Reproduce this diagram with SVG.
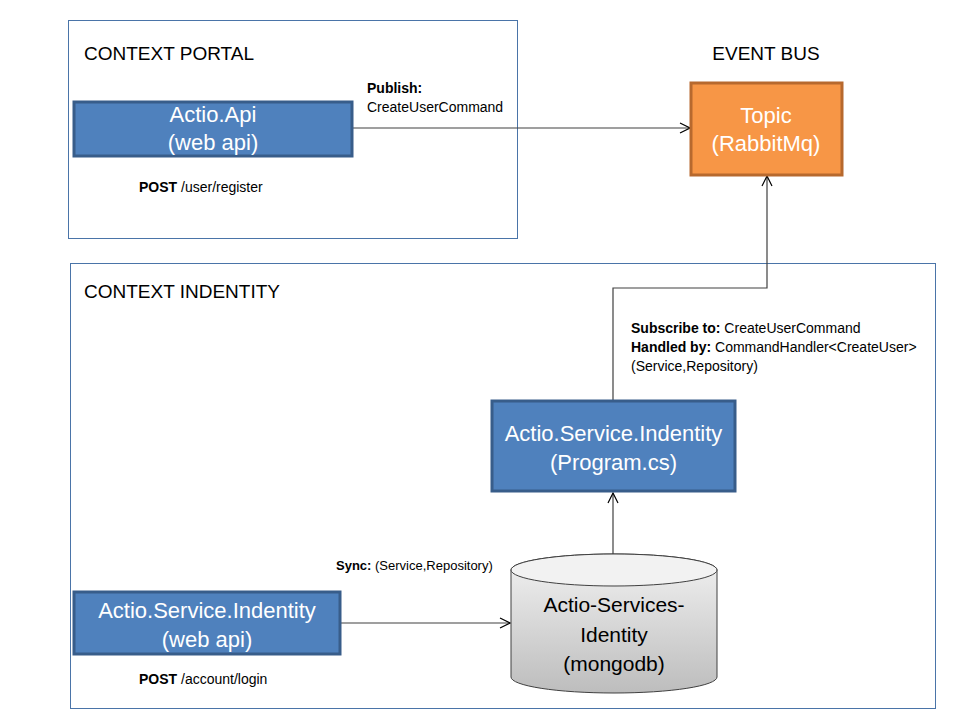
<svg xmlns="http://www.w3.org/2000/svg" width="960" height="720" viewBox="0 0 960 720">
<style>
.ctx{fill:#ffffff;stroke:#4A74A8;stroke-width:1}
.title{font-family:"Liberation Sans",Arial,sans-serif;font-size:19px;fill:#000}
.blue{fill:#4F81BD;stroke:#385D8A;stroke-width:3}
.orange{fill:#F79646;stroke:#B7692E;stroke-width:3}
.lbl{font-family:"Liberation Sans",Arial,sans-serif;font-size:22px;fill:#ffffff;text-anchor:middle}
.dlbl{font-family:"Liberation Sans",Arial,sans-serif;font-size:21px;fill:#000;text-anchor:middle}
.small{font-family:"Liberation Sans",Arial,sans-serif;font-size:14px;fill:#000}
.b{font-weight:bold}
.conn{fill:none;stroke:#404040;stroke-width:1.2}
</style>
<defs>
<marker id="arr" viewBox="0 0 12 12" refX="11" refY="6" markerWidth="12" markerHeight="12" markerUnits="userSpaceOnUse" orient="auto">
<path d="M1,1 L11,6 L1,11" fill="none" stroke="#000" stroke-width="1.2"/>
</marker>
<linearGradient id="cyl" x1="0" y1="0" x2="0" y2="1">
<stop offset="0" stop-color="#F2F2F2"/>
<stop offset="1" stop-color="#BDBDBD"/>
</linearGradient>
</defs>
<rect width="960" height="720" fill="#ffffff"/>

<g id="context-portal">
<rect class="ctx" x="68.5" y="20.5" width="449" height="218"/>
<text class="title" x="84" y="60">CONTEXT PORTAL</text>
</g>
<g id="context-indentity">
<rect class="ctx" x="70.5" y="263.5" width="865" height="445"/>
<text class="title" x="84" y="298">CONTEXT INDENTITY</text>
</g>
<g id="event-bus-title">
<text class="title" x="766" y="60" text-anchor="middle">EVENT BUS</text>
</g>

<g id="connectors">
<line class="conn" x1="353" y1="128" x2="690" y2="128" marker-end="url(#arr)"/>
<polyline class="conn" points="613,400 613,288 767,288 767,176" marker-end="url(#arr)"/>
<line class="conn" x1="613" y1="554" x2="613" y2="493" marker-end="url(#arr)"/>
<line class="conn" x1="341" y1="623" x2="510" y2="623" marker-end="url(#arr)"/>
</g>

<g id="actio-api">
<rect class="blue" x="74" y="102" width="278" height="54"/>
<text class="lbl" x="213" y="122">Actio.Api</text>
<text class="lbl" x="213" y="150">(web api)</text>
</g>
<g id="label-publish">
<text class="small b" x="367" y="93">Publish:</text>
<text class="small" x="367" y="112">CreateUserCommand</text>
</g>
<g id="label-post-register">
<text class="small" x="139" y="192"><tspan class="b">POST</tspan> /user/register</text>
</g>

<g id="topic">
<rect class="orange" x="691" y="83" width="151" height="92"/>
<text class="lbl" x="766" y="123">Topic</text>
<text class="lbl" x="766" y="151">(RabbitMq)</text>
</g>

<g id="label-subscribe">
<text class="small" x="631" y="333"><tspan class="b">Subscribe to:</tspan> CreateUserCommand</text>
<text class="small" x="631" y="352"><tspan class="b">Handled by:</tspan> CommandHandler&lt;CreateUser&gt;</text>
<text class="small" x="631" y="371">(Service,Repository)</text>
</g>

<g id="service-program">
<rect class="blue" x="492" y="401" width="243" height="90"/>
<text class="lbl" x="613.5" y="441">Actio.Service.Indentity</text>
<text class="lbl" x="613.5" y="470">(Program.cs)</text>
</g>

<g id="service-webapi">
<rect class="blue" x="74" y="592" width="266" height="62"/>
<text class="lbl" x="207" y="618">Actio.Service.Indentity</text>
<text class="lbl" x="207" y="647">(web api)</text>
</g>
<g id="label-sync">
<text class="small" x="336" y="570" style="font-size:13px"><tspan class="b">Sync:</tspan> (Service,Repository)</text>
</g>
<g id="label-post-login">
<text class="small" x="139" y="684"><tspan class="b">POST</tspan> /account/login</text>
</g>

<g id="mongodb">
<path d="M511,570 L511,677 A103,16 0 0 0 717,677 L717,570 A103,16 0 0 0 511,570 Z" fill="url(#cyl)" stroke="#404040" stroke-width="1"/>
<ellipse cx="614" cy="570" rx="103" ry="16" fill="#F2F2F2" stroke="#404040" stroke-width="1"/>
<text class="dlbl" x="614" y="612">Actio-Services-</text>
<text class="dlbl" x="614" y="642">Identity</text>
<text class="dlbl" x="614" y="671">(mongodb)</text>
</g>
</svg>
